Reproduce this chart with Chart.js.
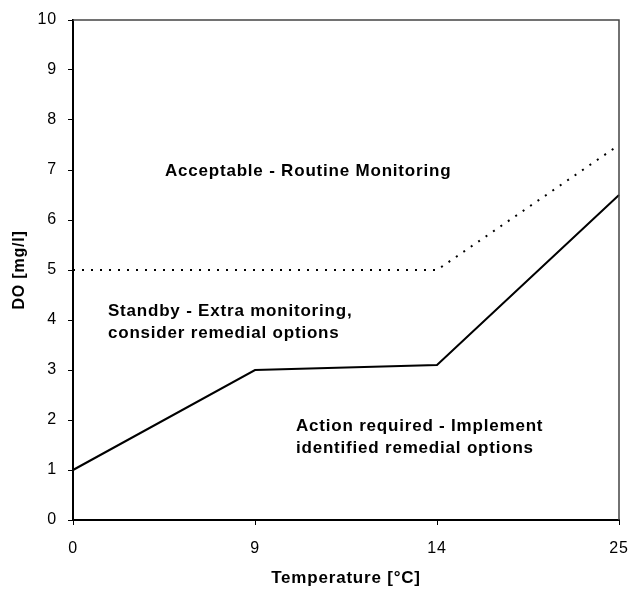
<!DOCTYPE html>
<html>
<head>
<meta charset="utf-8">
<script src="https://cdn.jsdelivr.net/npm/chart.js@4/dist/chart.umd.min.js"></script>
<style>
  html, body { margin: 0; padding: 0; background: #fff; }
  #wrap { width: 629px; height: 590px; }
</style>
</head>
<body>
<div id="wrap"><canvas id="doChart" width="629" height="590"></canvas></div>
<script>
// temperatures on the x axis (category ticks)
const temperatures = ['0', '9', '14', '25'];
// action threshold (solid line)
const actionLimit = [1, 3, 3.1, 6.5];
// acceptable threshold (dotted line)
const acceptLimit = [5, 5, 5, 7.5];
const yTicks = [0, 1, 2, 3, 4, 5, 6, 7, 8, 9, 10];

const zoneText = [
    ['Acceptable - Routine Monitoring'],
    ['Standby - Extra monitoring,', 'consider remedial options'],
    ['Action required - Implement', 'identified remedial options']
];
// baseline anchor of each zone label, in axis units
const zoneAnchor = [
    { x: 0.505, y: 6.88 },
    { x: 0.192, y: 4.08 },
    { x: 1.225, y: 1.78 }
];

const FONT = '"Liberation Sans", Arial, sans-serif';

const frame = {
    id: 'frame',
    beforeDraw(chart) {
        // the original lettering runs a little wider than Arial
        chart.ctx.letterSpacing = '0.8px';
    },
    afterDatasetsDraw(chart) {
        const { ctx, chartArea: a, scales } = chart;
        ctx.save();
        ctx.strokeStyle = '#444';
        ctx.lineWidth = 1.5;
        ctx.beginPath();
        ctx.moveTo(a.left, a.top);
        ctx.lineTo(a.right, a.top);
        ctx.lineTo(a.right, a.bottom);
        ctx.stroke();

        ctx.fillStyle = '#000';
        ctx.font = 'bold 17px ' + FONT;
        ctx.textBaseline = 'alphabetic';
        ctx.textAlign = 'left';
        zoneText.forEach((lines, k) => {
            const px = scales.x.getPixelForValue(zoneAnchor[k].x);
            const py = scales.y.getPixelForValue(zoneAnchor[k].y);
            lines.forEach((t, i) => ctx.fillText(t, px, py + i * 22));
        });
        ctx.restore();
    }
};

function createChart() {
    const ctx = document.getElementById('doChart').getContext('2d');
    new Chart(ctx, {
        type: 'line',
        data: {
            labels: temperatures,
            datasets: [
                {
                    label: 'Action',
                    data: actionLimit,
                    borderColor: '#000',
                    borderWidth: 2,
                    pointRadius: 0,
                    tension: 0
                },
                {
                    label: 'Acceptable',
                    data: acceptLimit,
                    borderColor: '#000',
                    borderWidth: 2,
                    borderDash: [2, 7],
                    pointRadius: 0,
                    tension: 0
                }
            ]
        },
        options: {
            responsive: false,
            animation: false,
            layout: { padding: 0 },
            plugins: {
                legend: { display: false },
                tooltip: { enabled: false }
            },
            scales: {
                x: {
                    type: 'category',
                    offset: false,
                    afterFit: axis => {
                        axis.height = 70;
                        axis.paddingLeft = 0;
                        axis.paddingRight = 10;
                    },
                    border: { display: true, color: '#000', width: 2 },
                    grid: { drawOnChartArea: false, drawTicks: true, tickLength: 5, color: '#000' },
                    ticks: { color: '#000', font: { family: FONT, size: 16 }, padding: 14, maxRotation: 0 },
                    title: { display: true, text: 'Temperature [°C]', color: '#000', font: { family: FONT, size: 17, weight: 'bold' }, padding: { top: 0, bottom: 1 } }
                },
                y: {
                    min: 0,
                    max: 10,
                    afterFit: axis => {
                        axis.width = 73;
                        axis.paddingTop = 20;
                        axis.paddingBottom = 0;
                    },
                    afterBuildTicks: axis => { axis.ticks = yTicks.map(v => ({ value: v })); },
                    border: { display: true, color: '#000', width: 2 },
                    grid: { drawOnChartArea: false, drawTicks: true, tickLength: 5, color: '#000' },
                    ticks: { color: '#000', font: { family: FONT, size: 16 }, padding: 11 },
                    title: { display: true, text: 'DO [mg/l]', color: '#000', font: { family: FONT, size: 16, weight: 'bold' }, padding: { top: 10, bottom: 0 } }
                }
            }
        },
        plugins: [frame]
    });
}

document.addEventListener('DOMContentLoaded', createChart);
</script>
</body>
</html>
